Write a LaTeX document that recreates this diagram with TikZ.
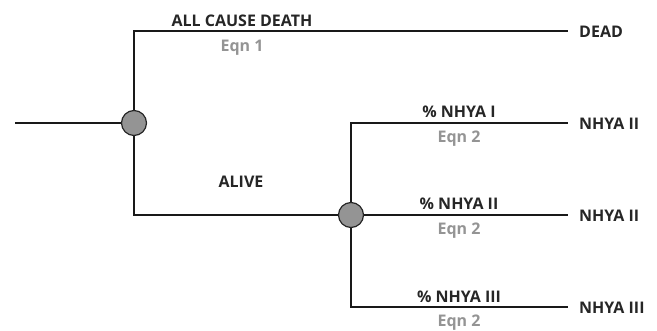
\documentclass[tikz,border=0pt]{standalone}
\usepackage{fontspec}
\setmainfont{Open Sans}
\begin{document}
\begin{tikzpicture}[x=1pt,y=-1pt,
  line/.style={draw=black!90,line width=1.2pt},
  chance/.style={circle,draw=black!85,line width=1.2pt,fill=black!42,minimum size=25pt,inner sep=0pt},
  lbl/.style={font=\bfseries\fontsize{16}{18}\selectfont,text=black!85,inner sep=0pt,anchor=base},
  eqn/.style={font=\bfseries\fontsize{16}{18}\selectfont,text=black!42,inner sep=0pt,anchor=base},
  term/.style={font=\bfseries\fontsize{16}{18}\selectfont,text=black!85,inner sep=0pt,anchor=base west}]
\useasboundingbox (0,0) rectangle (657,330);
\coordinate (in) at (15,123);
\node[chance] (c1) at (134,123) {};
\coordinate (t1) at (134,31);
\coordinate (b1) at (134,215);
\coordinate (e1) at (568,31);
\node[chance] (c2) at (351,215) {};
\coordinate (t2) at (351,123);
\coordinate (b2) at (351,307);
\coordinate (e21) at (568,123);
\coordinate (e22) at (568,215);
\coordinate (e23) at (568,307);
\draw[line] (in) -- (c1);
\draw[line] (c1) -- (t1) -- (e1);
\draw[line] (c1) -- (b1) -- (c2);
\draw[line] (c2) -- (t2) -- (e21);
\draw[line] (c2) -- (e22);
\draw[line] (c2) -- (b2) -- (e23);
\node[lbl] (l1) at (242,26) {ALL CAUSE DEATH};
\node[eqn] (q1) at (242,51) {Eqn 1};
\node[lbl] (l2) at (241,187) {ALIVE};
\node[lbl] (l3) at (459,117) {\% NHYA I};
\node[eqn] (q3) at (459,142) {Eqn 2};
\node[lbl] (l4) at (459,209) {\% NHYA II};
\node[eqn] (q4) at (459,234) {Eqn 2};
\node[lbl] (l5) at (459,302) {\% NHYA III};
\node[eqn] (q5) at (459,326) {Eqn 2};
\node[term] (d) at (579,37) {DEAD};
\node[term] (n1) at (579,129) {NHYA II};
\node[term] (n2) at (579,221) {NHYA II};
\node[term] (n3) at (579,313) {NHYA III};
\end{tikzpicture}
\end{document}
